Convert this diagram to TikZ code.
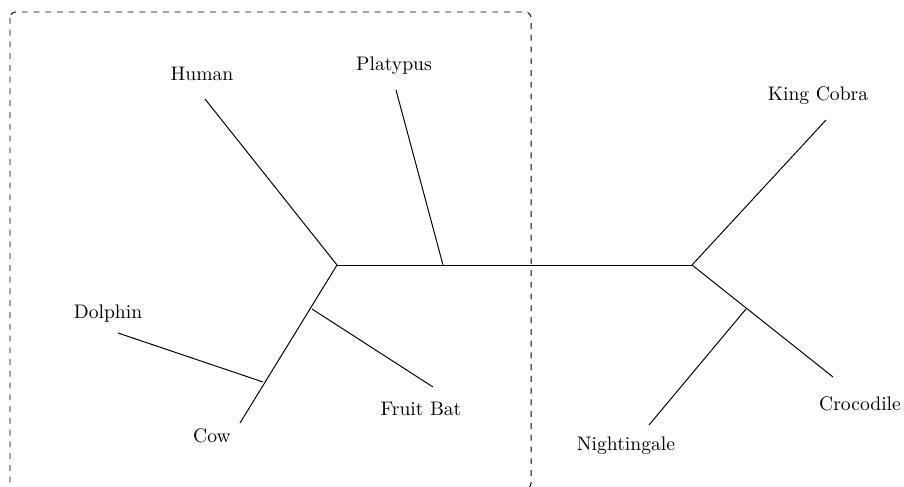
\documentclass[tikz,border=0pt]{standalone}
\begin{document}
\begin{tikzpicture}[x=0.51pt,y=-0.51pt,
  taxon/.style={inner sep=0pt,anchor=base},
  branch/.style={line width=0.5pt},
  clade/.style={dashed,line width=0.5pt,rounded corners=3pt}]
\useasboundingbox (0,0) rectangle (904,486);

% inner junctions of the tree
\coordinate (m) at (337,265);
\coordinate (r) at (692,265);
\coordinate (p) at (443,265);
\coordinate (fb) at (312,309);
\coordinate (dc) at (263,382);
\coordinate (nc) at (746,309);

% leaf ends of the branches
\coordinate (hE) at (205,99);
\coordinate (pE) at (396,90);
\coordinate (dE) at (118,333);
\coordinate (cE) at (240,423);
\coordinate (fE) at (433,387);
\coordinate (kE) at (826,120);
\coordinate (crE) at (833,377);
\coordinate (nE) at (649,425);

% taxon labels
\node[taxon] (human) at (202,80) {Human};
\node[taxon] (platypus) at (394,71) {Platypus};
\node[taxon] (dolphin) at (108,318) {Dolphin};
\node[taxon] (cow) at (212,442) {Cow};
\node[taxon] (fruitbat) at (421,415) {Fruit Bat};
\node[taxon] (kingcobra) at (818,100) {King Cobra};
\node[taxon] (crocodile) at (860,410) {Crocodile};
\node[taxon] (nightingale) at (626,450) {Nightingale};

% branches
\draw[branch] (hE) -- (m);
\draw[branch] (m) -- (r);
\draw[branch] (pE) -- (p);
\draw[branch] (m) -- (cE);
\draw[branch] (fb) -- (fE);
\draw[branch] (dE) -- (dc);
\draw[branch] (r) -- (kE);
\draw[branch] (r) -- (crE);
\draw[branch] (nc) -- (nE);

% mammal clade
\draw[clade] (10,12) rectangle (531,489);
\end{tikzpicture}
\end{document}
